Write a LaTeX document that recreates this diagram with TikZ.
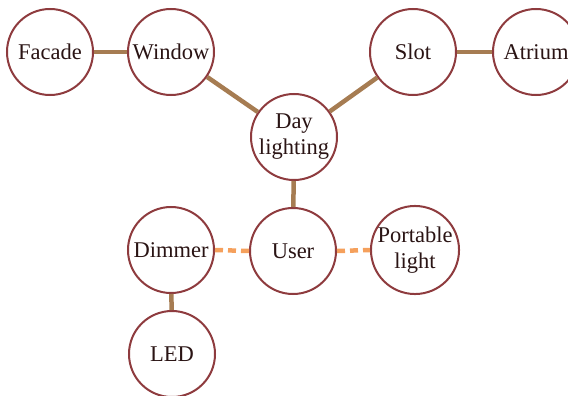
\documentclass[tikz,border=0pt]{standalone}
\usepackage{fontspec}
\setmainfont{Liberation Serif}
\definecolor{ring}{HTML}{8E3B3E}
\definecolor{link}{HTML}{A67C52}
\definecolor{dash}{HTML}{F5A05C}
\definecolor{ink}{HTML}{2A1414}
\tikzset{
  bubble/.style={circle, draw=ring, line width=2pt, fill=white, minimum size=86pt, inner sep=0pt,
    font=\fontsize{22.5}{26}\selectfont, text=ink, align=center},
  solidlink/.style={draw=link, line width=4.5pt},
  dashlink/.style={draw=dash, line width=4.5pt, dash pattern=on 8pt off 5pt},
}
\begin{document}
\begin{tikzpicture}[x=1pt,y=-1pt]
\useasboundingbox (0,0) rectangle (568,396);
\clip (0,0) rectangle (568,396);
\node[bubble] (facade) at (50,52) {Facade};
\node[bubble] (window) at (171,52) {Window};
\node[bubble] (slot) at (413,52) {Slot};
\node[bubble] (atrium) at (536,52) {Atrium};
\node[bubble] (day) at (294,137) {Day\\lighting};
\node[bubble] (user) at (293,251) {User};
\node[bubble] (dimmer) at (171,250) {Dimmer};
\node[bubble] (portable) at (415,250) {Portable\\light};
\node[bubble] (led) at (172,354) {LED};
\draw[solidlink] (facade) -- (window);
\draw[solidlink] (slot) -- (atrium);
\draw[solidlink] (window) -- (day);
\draw[solidlink] (slot) -- (day);
\draw[solidlink] (day) -- (user);
\draw[solidlink] (dimmer) -- (led);
\draw[dashlink] (dimmer.east) -- (user.west);
\draw[dashlink] (user.east) -- (portable.west);
\end{tikzpicture}
\end{document}
